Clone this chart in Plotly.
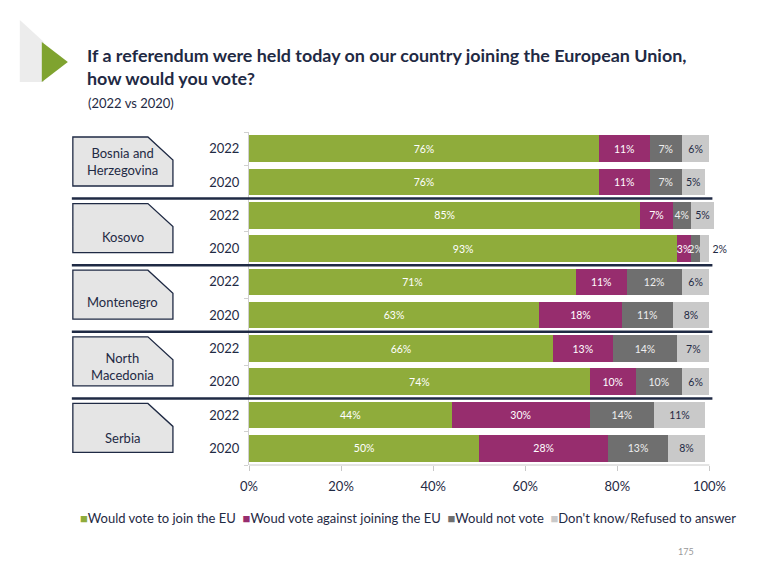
import plotly.graph_objects as go

# ---------------- data ----------------
countries = ["Bosnia and<br>Herzegovina", "Kosovo", "Montenegro", "North<br>Macedonia", "Serbia"]
years = ["2022", "2020"]
series_names = ["Would vote to join the EU", "Woud vote against joining the EU",
                "Would not vote", "Don't know/Refused to answer"]
join_eu = [76, 76, 85, 93, 71, 63, 66, 74, 44, 50]
against_eu = [11, 11, 7, 3, 11, 18, 13, 10, 30, 28]
not_vote = [7, 7, 4, 2, 12, 11, 14, 10, 14, 13]
dont_know = [6, 5, 5, 2, 6, 8, 7, 6, 11, 8]
x_tick_vals = [0, 20, 40, 60, 80, 100]
x_tick_text = ["0%", "20%", "40%", "60%", "80%", "100%"]

# ---------------- styling ----------------
colors = ["#8fac3b", "#972d6e", "#6f6f6f", "#c9c9c9"]
text_colors = ["#ffffff", "#ffffff", "#eeeeee", "#1f2a44"]
NAVY = "#1f2a44"
FONT = "Lato"

W, H = 769, 571
X_MAX = 101  # a little room so rows summing to 101% keep their labels
PX0, PX100 = 249, 709
L = PX0
PW = (PX100 - PX0) * X_MAX / 100
R = W - L - PW
T, B = 132, 106
PH = H - T - B


def px2x(px):
    return (px - L) / PW


def px2y(py):
    return (H - B - py) / PH


row_ids = [f"{c}|{y}" for c in countries for y in years]
row_years = [y for c in countries for y in years]

fig = go.Figure()
all_series = [join_eu, against_eu, not_vote, dont_know]
for i, vals in enumerate(all_series):
    positions = ["inside"] * len(vals)
    tcols = [text_colors[i]] * len(vals)
    sizes = [11.5] * len(vals)
    if i in (1, 2):
        sizes[3] = 10.5  # cramped Kosovo 2020 segments
    if i == 3:
        # tiny last segment of Kosovo 2020 labelled outside
        positions[3] = "outside"
        tcols[3] = NAVY
    fig.add_trace(go.Bar(
        y=row_ids, x=vals, orientation="h", name=series_names[i],
        marker=dict(color=colors[i], line=dict(width=0)),
        text=[f"{v}%" for v in vals], textposition=positions, textangle=0,
        insidetextanchor="middle", constraintext="none",
        textfont=dict(color=tcols, size=sizes, family=FONT),
        cliponaxis=False, showlegend=False,
    ))

fig.update_layout(
    barmode="stack", bargap=0.2,
    width=W, height=H,
    margin=dict(l=L, r=R, t=T, b=B),
    paper_bgcolor="white", plot_bgcolor="white",
    font=dict(family=FONT, color=NAVY),
    uniformtext=dict(minsize=10.5, mode="show"),
)
fig.update_yaxes(
    categoryorder="array", categoryarray=row_ids, autorange="reversed",
    tickvals=row_ids, ticktext=row_years, tickson="boundaries",
    ticks="outside", ticklen=4, tickcolor="#d0d0d0",
    showline=True, linecolor="#d0d0d0", linewidth=1,
    tickfont=dict(size=13, color=NAVY, family=FONT), ticklabelstandoff=6,
    showgrid=False, zeroline=False,
)
fig.update_xaxes(
    range=[0, X_MAX], tickvals=x_tick_vals, ticktext=x_tick_text,
    ticks="outside", ticklen=5, tickcolor="#c8c8c8",
    showline=False,
    tickfont=dict(size=13, color=NAVY, family=FONT), ticklabelstandoff=4,
    showgrid=False, zeroline=False,
)

shapes = []
annotations = []

# bottom axis line from 0% to 100%
shapes.append(dict(type="line", xref="x", yref="paper", x0=0, x1=100, y0=0, y1=0,
                   line=dict(color="#c8c8c8", width=1)))

# separator lines between country groups
for g in range(1, len(countries)):
    yb = 1 - 2 * g / len(row_ids)
    shapes.append(dict(type="line", xref="paper", yref="paper",
                       x0=px2x(72), x1=px2x(712), y0=yb, y1=yb,
                       line=dict(color=NAVY, width=2.5)))

# country label boxes
label_offsets = [29, 38, 37, 35, 40]
for g, c in enumerate(countries):
    top_px = T + g * PH * 2 / len(row_ids)
    t = top_px + 5
    b = top_px + 54
    xl, xr, xc = px2x(73), px2x(173), px2x(148)
    path = (f"M {xl},{px2y(t)} L {xc},{px2y(t)} L {xr},{px2y(t + 23)} "
            f"L {xr},{px2y(b)} L {xl},{px2y(b)} Z")
    shapes.append(dict(type="path", xref="paper", yref="paper", path=path,
                       fillcolor="#e5e5e5", line=dict(color=NAVY, width=1.3)))
    annotations.append(dict(xref="paper", yref="paper", x=px2x(123),
                            y=px2y(top_px + label_offsets[g]),
                            text=c, showarrow=False, xanchor="center", yanchor="middle",
                            font=dict(size=13, color=NAVY, family=FONT)))

# logo triangles
grey_path = (f"M {px2x(20)},{px2y(20)} L {px2x(44)},{px2y(42)} L {px2x(44)},{px2y(82)} "
             f"L {px2x(20)},{px2y(82)} Z")
shapes.append(dict(type="path", xref="paper", yref="paper", path=grey_path,
                   fillcolor="#ececec", line=dict(width=0)))
green_path = (f"M {px2x(42)},{px2y(42)} L {px2x(68)},{px2y(62)} L {px2x(42)},{px2y(82)} Z")
shapes.append(dict(type="path", xref="paper", yref="paper", path=green_path,
                   fillcolor="#7fa32f", line=dict(width=0)))

# title & subtitle
annotations.append(dict(xref="paper", yref="paper", x=px2x(85), y=px2y(42),
                        xanchor="left", yanchor="top", align="left", showarrow=False,
                        text="<b>If a referendum were held today on our country joining the European Union,<br>how would you vote?</b>",
                        font=dict(size=17.9, color=NAVY, family=FONT)))
annotations.append(dict(xref="paper", yref="paper", x=px2x(86), y=px2y(103),
                        xanchor="left", yanchor="middle", showarrow=False,
                        text="(2022 vs 2020)",
                        font=dict(size=13, color=NAVY, family=FONT)))

# legend as text
legend_text = "  ".join(
    f"<span style='color:{colors[i]}'>■</span>{series_names[i]}" for i in range(4))
annotations.append(dict(xref="paper", yref="paper", x=px2x(408), y=px2y(518),
                        xanchor="center", yanchor="middle", showarrow=False,
                        text=legend_text, font=dict(size=13, color=NAVY, family=FONT)))

# page number
annotations.append(dict(xref="paper", yref="paper", x=px2x(686), y=px2y(551),
                        xanchor="center", yanchor="middle", showarrow=False,
                        text="175", font=dict(size=9, color="#999999", family=FONT)))

fig.update_layout(shapes=shapes, annotations=annotations)
fig.write_html("out.html")
